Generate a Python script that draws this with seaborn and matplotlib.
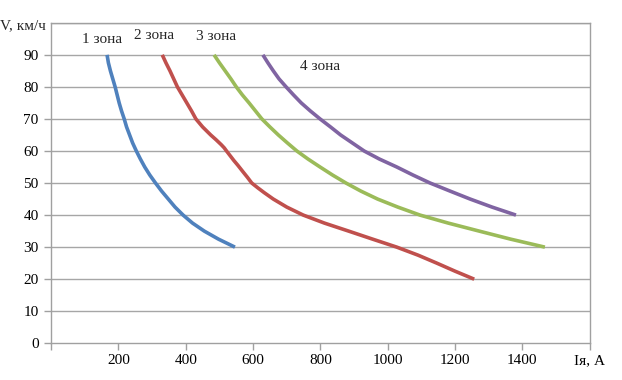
import pandas as pd
import matplotlib
matplotlib.use("Agg")
import matplotlib.pyplot as plt
import seaborn as sns

# данные: ток якоря (А) и скорость (км/ч) по зонам
zone1_i = [166, 170, 176, 183, 190, 196, 202, 209, 217, 224, 233, 242, 253, 265, 278,
           293, 310, 328, 348, 368, 392, 420, 455, 497, 546]
zone1_v = [90, 87.5, 85, 82.5, 80, 77.5, 75, 72.5, 70, 67.5, 65, 62.5, 60, 57.5, 55,
           52.5, 50, 47.5, 45, 42.5, 40, 37.5, 35, 32.5, 30]

zone2_i = [330, 341, 353, 364, 375, 389, 403, 417, 430, 450, 474, 490, 505, 514, 521,
           532, 543, 555, 570, 583, 596, 614, 633, 660, 700, 749, 812, 884, 955, 1027,
           1090, 1146, 1200, 1257]
zone2_v = [90, 87.5, 85, 82.5, 80, 77.5, 75, 72.5, 70, 67.5, 65, 63.5, 62, 61, 60,
           58.5, 57, 55.5, 53.5, 51.8, 50, 48.5, 47, 45, 42.5, 40, 37.5, 35, 32.5, 30,
           27.5, 25, 22.5, 20]

zone3_i = [484, 500, 517, 534, 550, 568, 588, 607, 626, 650, 675, 702, 730, 763, 799,
           836, 876, 920, 970, 1030, 1096, 1180, 1272, 1365, 1467]
zone3_v = [90, 87.5, 85, 82.5, 80, 77.5, 75, 72.5, 70, 67.5, 65, 62.5, 60, 57.5, 55,
           52.5, 50, 47.5, 45, 42.5, 40, 37.5, 35, 32.5, 30]

zone4_i = [629, 644, 660, 677, 698, 720, 743, 770, 799, 830, 860, 895, 930, 975, 1027,
           1075, 1126, 1185, 1245, 1310, 1381]
zone4_v = [90, 87.5, 85, 82.5, 80, 77.5, 75, 72.5, 70, 67.5, 65, 62.5, 60, 57.5, 55,
           52.5, 50, 47.5, 45, 42.5, 40]

zone_names = ["1 зона", "2 зона", "3 зона", "4 зона"]
zone_colors = ["#4F81BD", "#C0504D", "#9BBB59", "#8064A2"]
x_ticks = [0, 200, 400, 600, 800, 1000, 1200, 1400, 1600]
x_labels = ["", "200", "400", "600", "800", "1000", "1200", "1400", "Ія, А"]
y_ticks = [0, 10, 20, 30, 40, 50, 60, 70, 80, 90]

sns.set_theme(style="white")
plt.rcParams["font.family"] = ["Liberation Serif", "DejaVu Serif"]

frames = []
for name, xs, ys in zip(zone_names,
                        [zone1_i, zone2_i, zone3_i, zone4_i],
                        [zone1_v, zone2_v, zone3_v, zone4_v]):
    frames.append(pd.DataFrame({"I": xs, "V": ys, "zone": name}))
df = pd.concat(frames, ignore_index=True)

fig = plt.figure(figsize=(6.22, 3.80), dpi=100)
ax = fig.add_axes([0.0823, 0.0966, 0.948 - 0.0823, 0.940 - 0.0966])

for y in range(10, 101, 10):
    ax.axhline(y, color="#a6a6a6", lw=1.0, zorder=0)

sns.lineplot(data=df, x="I", y="V", hue="zone", palette=zone_colors,
             sort=False, estimator=None, lw=2.6, legend=False, ax=ax,
             solid_joinstyle="round", solid_capstyle="butt")

ax.set_xlim(0, 1600)
ax.set_ylim(0, 100)
ax.set_xticks(x_ticks)
ax.set_xticklabels(x_labels, fontsize=11)
ax.set_yticks(y_ticks)
ax.set_yticklabels([str(v) for v in y_ticks], fontsize=11)
ax.tick_params(axis="both", direction="out", length=5, width=1,
               color="#a0a0a0", labelcolor="black")
ax.tick_params(axis="x", bottom=True, pad=3)
ax.tick_params(axis="y", left=True, pad=4)
ax.set_xlabel("")
ax.set_ylabel("")
for sp in ax.spines.values():
    sp.set_color("#a0a0a0")
    sp.set_linewidth(1.0)

ax.text(-0.01, 0.99, "V, км/ч", transform=ax.transAxes, ha="right",
        va="center", fontsize=11)

# подписи зон
ax.text(92, 94.7, zone_names[0], fontsize=11, va="center")
ax.text(246, 95.9, zone_names[1], fontsize=11, va="center")
ax.text(430, 95.6, zone_names[2], fontsize=11, va="center")
ax.text(740, 86.3, zone_names[3], fontsize=11, va="center")

fig.savefig("out.png", dpi=100)
